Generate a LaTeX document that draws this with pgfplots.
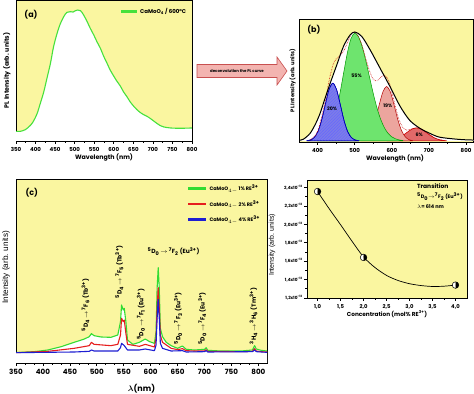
\documentclass[border=0pt]{standalone}
\usepackage{pgfplots}
\pgfplotsset{compat=1.18}
\usepackage{pgfplotstable}
\usetikzlibrary{patterns,plotmarks}
\usepackage{fontspec}
\setmainfont{Poppins}
\newfontfamily\arial{Liberation Sans}
\definecolor{ybg}{RGB}{250,246,160}
\definecolor{lgreen}{RGB}{70,225,60}
\definecolor{cgreen}{RGB}{50,220,50}
\definecolor{cred}{RGB}{230,30,30}
\definecolor{cblue}{RGB}{30,30,210}
\definecolor{fblue}{RGB}{125,125,232}
\definecolor{fgreen}{RGB}{110,228,110}
\definecolor{fpink}{RGB}{236,165,158}
\definecolor{fred}{RGB}{226,105,105}
\definecolor{arrfill}{RGB}{243,180,176}
\definecolor{arrdraw}{RGB}{200,80,80}
\newcommand{\tr}[5]{\textsuperscript{#1}D\textsubscript{#2}\,$\rightarrow$\,\textsuperscript{#3}#4 (#5\textsuperscript{3+})}

\pgfplotstableread{
x y
350 29
361 29
374 34
387 47
395 60
404 82
412 112
421 147
429 187
438 232
446 282
455 322
463 350
472 372
480 385
489 387
496 386
502 390
508 392
515 390
523 377
532 357
540 337
549 317
557 297
566 277
574 254
583 232
591 212
600 194
608 179
617 164
625 147
634 132
642 117
651 104
659 94
668 85
676 79
685 74
694 67
702 60
711 52
719 46
728 42
745 39
770 38
800 39
}\tabA

\pgfplotstableread{
x y
350 0.005
362 0.016
380 0.07
395 0.16
407 0.255
420 0.39
434 0.53
452 0.70
470 0.87
488 0.975
501 1.0
519 0.96
541 0.84
568 0.67
595 0.50
622 0.32
648 0.19
675 0.117
702 0.07
729 0.034
774 0.016
800 0.01
820 0.008
}\tabEnv

\pgfplotstableread{
x y
380 0.009
400 0.085
420 0.356
430 0.539
441 0.692
450 0.753
460 0.783
470 0.824
480 0.898
490 0.975
500 1.0
510 0.959
520 0.874
530 0.756
540 0.641
550 0.566
560 0.552
570 0.582
580 0.604
590 0.564
600 0.452
610 0.31
620 0.189
630 0.122
640 0.10
650 0.107
667 0.121
680 0.108
700 0.060
720 0.020
740 0.004
}\tabSum

\pgfplotstableread{
x y
371 0.002
381 0.009
391 0.031
401 0.086
411 0.191
421 0.337
431 0.473
441 0.53
451 0.473
461 0.337
471 0.191
481 0.086
491 0.031
501 0.009
511 0.002
}\tabBlue

\pgfplotstableread{
x y
400 0.0055
410 0.015
420 0.035
430 0.077
440 0.152
450 0.270
460 0.431
470 0.620
480 0.804
490 0.940
500 0.99
510 0.958
520 0.868
530 0.736
540 0.585
550 0.435
560 0.303
570 0.198
580 0.121
590 0.069
600 0.037
610 0.019
620 0.009
630 0.004
}\tabGreen

\pgfplotstableread{
x y
516 0.003
526 0.012
536 0.038
546 0.096
556 0.197
566 0.331
576 0.451
586 0.50
596 0.451
606 0.331
616 0.197
626 0.096
636 0.038
646 0.012
656 0.003
}\tabPink

\pgfplotstableread{
x y
587 0.002
597 0.005
607 0.012
617 0.024
627 0.043
637 0.068
647 0.093
657 0.113
667 0.12
677 0.113
687 0.093
697 0.068
707 0.043
717 0.024
727 0.012
737 0.005
747 0.002
}\tabRed

\pgfplotstableread{
x y
350 1
359 1
384 3
409 8
434 18
458 31
477 41
486 48
490 57
495 51
508 47
526 46
539 53
544 93
546 143
549 128
551 133
554 93
557 38
567 25
579 31
590 41
598 33
607 28
610 63
612 193
614 255
616 193
618 73
622 48
629 31
638 21
650 13
659 20
666 10
681 8
700 10
703 15
706 7
731 5
768 5
789 8
793 21
796 11
805 7
816 5
}\tabCg

\pgfplotstableread{
x y
350 0
409 4
458 13
486 21
490 31
495 25
526 21
539 25
544 53
546 103
549 93
551 98
554 58
557 25
579 19
590 25
607 17
610 43
612 133
614 195
616 133
618 53
622 31
638 13
650 9
659 12
666 6
681 5
700 5
703 9
706 4
768 3
789 4
793 12
796 5
805 3
816 2
}\tabCr

\pgfplotstableread{
x y
350 0
458 2
486 4
490 8
495 5
539 5
544 15
546 28
549 24
551 21
557 8
579 8
590 11
607 6
610 23
612 103
614 160
616 103
618 28
622 13
638 5
659 6
666 2
700 3
703 6
706 2
789 3
793 8
796 3
816 1
}\tabCb

\pgfplotstableread{
x y
1.0 2.355
2.0 1.64
4.0 1.34
}\tabD

\pgfplotstableread{
x y
1.0 2.355
1.25 2.17
1.5 1.995
1.75 1.815
2.0 1.645
2.25 1.53
2.5 1.445
2.75 1.39
3.0 1.355
3.25 1.335
3.5 1.325
3.75 1.328
4.0 1.34
}\tabDfit

\pgfplotsset{
  common/.style={
    scale only axis, anchor=south west,
    axis background/.style={fill=ybg},
    axis line style={line width=0.8pt},
    tick align=outside, xtick pos=left, ytick pos=left,
    major tick length=3bp, minor tick length=1.8bp,
    every tick/.style={black, line width=0.6pt},
    /pgf/number format/assume math mode=true,
    /pgf/number format/1000 sep={},
  }
}

\begin{document}
\begin{tikzpicture}
\path[use as bounding box] (0,0) rectangle (474bp,394bp);

% ---------------- (a)
\begin{axis}[common, at={(16bp,253bp)}, width=176bp, height=141bp,
  xmin=350, xmax=800, ymin=0, ymax=422,
  xtick={350,400,...,800}, minor x tick num=1, ytick=\empty,
  tick label style={font=\bfseries\fontsize{5.5}{6}\selectfont},
  xlabel={Wavelength (nm)}, ylabel={PL Intensity (arb. units)},
  label style={font=\bfseries\fontsize{6.3}{7}\selectfont},
  xlabel style={at={(axis description cs:0.5,-0.12)}, anchor=center},
  ylabel style={at={(axis description cs:-0.052,0.5)}, anchor=center},
  legend style={at={(rel axis cs:0.985,0.965)}, anchor=north east, draw=none, fill=none,
    font=\bfseries\fontsize{5.5}{6}\selectfont, inner sep=1pt},
  legend cell align=left,
  legend image code/.code={\draw[#1, line width=2.2pt] (0bp,0bp) -- (16bp,0bp);},
]
\addplot[draw=none, fill=white, smooth, forget plot] table {\tabA} \closedcycle;
\addplot[lgreen, line width=1.1pt, smooth] table {\tabA};
\addlegendentry{CaMoO\textsubscript{4} / 600\textdegree C}
\node[font=\bfseries\fontsize{8}{9}\selectfont] at (rel axis cs:0.085,0.894) {(a)};
\end{axis}

% ---------------- (b)
\begin{axis}[common, at={(299bp,252bp)}, width=174.5bp, height=123bp,
  xmin=350, xmax=820, ymin=-0.01, ymax=1.12,
  xtick={400,500,...,800}, minor x tick num=1, ytick=\empty,
  tick label style={font=\bfseries\fontsize{5.5}{6}\selectfont},
  xlabel={Wavelength (nm)}, ylabel={PL Intensity (arb. units)},
  label style={font=\bfseries\fontsize{6.3}{7}\selectfont},
  ylabel style={font=\bfseries\fontsize{5.3}{6}\selectfont, at={(axis description cs:-0.036,0.5)}, anchor=center},
  xlabel style={at={(axis description cs:0.55,-0.135)}, anchor=center},
]
\addplot[draw=none, fill=white, smooth] table {\tabEnv} \closedcycle;
\addplot[draw=red!80!black, line width=0.6pt, fill=fred, smooth] table {\tabRed} \closedcycle;
\addplot[draw=red!70!black, line width=0.5pt, fill=fpink, smooth] table {\tabPink} \closedcycle;
\addplot[draw=green!60!black, line width=0.5pt, fill=fgreen, smooth] table {\tabGreen} \closedcycle;
\addplot[draw=blue!70!black, line width=0.6pt, fill=fblue, smooth,
  postaction={pattern=north east lines, pattern color=blue!60!white}] table {\tabBlue} \closedcycle;
\addplot[red!80!black, densely dotted, line width=0.6pt, smooth] table {\tabSum};
\addplot[black, line width=1pt, smooth] table {\tabEnv};
\node[font=\bfseries\fontsize{8}{9}\selectfont] at (rel axis cs:0.085,0.915) {(b)};
\begin{scope}[font=\bfseries\fontsize{4.8}{5}\selectfont]
\node at (axis cs:439,0.30) {20\%};
\node at (axis cs:505,0.60) {55\%};
\node at (axis cs:589,0.32) {19\%};
\node at (axis cs:674,0.06) {6\%};
\end{scope}
\end{axis}

% ---------------- arrow
\draw[arrdraw, line width=0.6pt, fill=arrfill]
  (197bp,316.5bp) -- (277bp,316.5bp) -- (277bp,309bp) -- (287bp,323bp)
  -- (277bp,337bp) -- (277bp,329.5bp) -- (197bp,329.5bp) -- cycle;
\node[font=\bfseries\fontsize{3.9}{4}\selectfont, inner sep=0pt] at (237bp,323bp) {deconvolution the PL curve};

% ---------------- (c)
\begin{axis}[common, at={(16bp,31bp)}, width=251bp, height=184bp,
  xmin=350, xmax=816, ymin=-31, ymax=521,
  xtick={350,400,...,800}, minor x tick num=2, ytick=\empty,
  tick label style={font=\bfseries\fontsize{7.2}{8}\selectfont},
  xlabel={{\boldmath$\lambda$}(nm)}, ylabel={Intensity (arb. units)},
  xlabel style={font=\bfseries\fontsize{8}{9}\selectfont, at={(axis description cs:0.5,-0.141)}, anchor=center},
  ylabel style={font=\arial\fontsize{8.2}{9}\selectfont, at={(axis description cs:-0.04,0.52)}, anchor=center},
  legend style={at={(rel axis cs:0.985,0.985)}, anchor=north east, draw=none, fill=none,
    font=\bfseries\fontsize{5}{6}\selectfont, row sep=4.3bp, inner sep=1pt},
  legend cell align=left,
  legend image code/.code={\draw[#1, line width=2.2pt] (0bp,0bp) -- (18bp,0bp);},
]
\addplot[draw=none, fill=white, forget plot] table {\tabCg} |- (axis cs:350,-31) -- cycle;
\addplot[cgreen, line width=1.1pt, line join=round] table {\tabCg};
\addlegendentry{CaMoO$_{4-}$ 1\% RE\textsuperscript{3+}}
\addplot[cred, line width=1.1pt, line join=round] table {\tabCr};
\addlegendentry{CaMoO$_{4-}$ 2\% RE\textsuperscript{3+}}
\addplot[cblue, line width=1.1pt, line join=round] table {\tabCb};
\addlegendentry{CaMoO$_{4-}$ 4\% RE\textsuperscript{3+}}
\node[font=\bfseries\fontsize{8}{9}\selectfont] at (rel axis cs:0.063,0.925) {(c)};
\begin{scope}[font=\bfseries\fontsize{6}{7}\selectfont, inner sep=0pt]
\node[rotate=90, anchor=west] at (axis cs:479,63) {\tr{5}{4}{7}{F\textsubscript{6}}{Tb}};
\node[rotate=90, anchor=west] at (axis cs:542,163) {\tr{5}{4}{7}{F\textsubscript{5}}{Tb}};
\node[anchor=west] at (axis cs:594,303) {\tr{5}{0}{7}{F\textsubscript{2}}{Eu}};
\node[rotate=90, anchor=west] at (axis cs:582,38) {\tr{5}{0}{7}{F\textsubscript{1}}{Eu}};
\node[rotate=90, anchor=west] at (axis cs:651,25) {\tr{5}{0}{7}{F\textsubscript{3}}{Eu}};
\node[rotate=90, anchor=west] at (axis cs:696,23) {\tr{5}{0}{7}{F\textsubscript{4}}{Eu}};
\node[rotate=90, anchor=west] at (axis cs:791,25) {\textsuperscript{3}H\textsubscript{4}\,$\rightarrow$\,\textsuperscript{3}H\textsubscript{6} (Tm\textsuperscript{3+})};
\end{scope}
\end{axis}

% ---------------- (d)
\begin{axis}[common, at={(307bp,96bp)}, width=160bp, height=118bp,
  xmin=0.77, xmax=4.25, ymin=1.2, ymax=2.48,
  xtick={1,1.5,2,2.5,3,3.5,4},
  xticklabels={{1,0},{1,5},{2,0},{2,5},{3,0},{3,5},{4,0}},
  ytick={1.2,1.4,1.6,1.8,2.0,2.2,2.4},
  yticklabels={{1,2x10\textsuperscript{-13}},{1,4x10\textsuperscript{-13}},{1,6x10\textsuperscript{-13}},{1,8x10\textsuperscript{-13}},{2,0x10\textsuperscript{-13}},{2,2x10\textsuperscript{-13}},{2,4x10\textsuperscript{-13}}},
  minor x tick num=1, minor y tick num=1,
  xticklabel style={font=\bfseries\fontsize{5.3}{6}\selectfont},
  yticklabel style={font=\bfseries\fontsize{4.3}{5}\selectfont, inner sep=1pt},
  xlabel={Concentration (mol\% RE\textsuperscript{3+})}, ylabel={Intensity (arb. units)},
  xlabel style={font=\bfseries\fontsize{5.8}{7}\selectfont, at={(axis description cs:0.5,-0.136)}, anchor=center},
  ylabel style={font=\arial\fontsize{7}{8}\selectfont, at={(axis description cs:-0.219,0.45)}, anchor=center},
]
\addplot[black, line width=0.7pt, smooth] table {\tabDfit};
\addplot[only marks, mark=halfcircle*, mark size=3.3bp,
  mark options={rotate=90, fill=white, draw=black, line width=0.5pt}, mark color=black] table {\tabD};
\begin{scope}[font=\bfseries\fontsize{5}{6}\selectfont, inner sep=0pt, anchor=west]
\node[font=\bfseries\fontsize{6}{7}\selectfont] at (axis cs:3.16,2.413) {Transition};
\node at (axis cs:3.16,2.304) {\textsuperscript{5}D\textsubscript{0}$\rightarrow$\textsuperscript{7}F\textsubscript{2} (Eu\textsuperscript{3+})};
\node at (axis cs:3.16,2.195) {$\lambda$= 614 nm};
\end{scope}
\end{axis}
\end{tikzpicture}
\end{document}
